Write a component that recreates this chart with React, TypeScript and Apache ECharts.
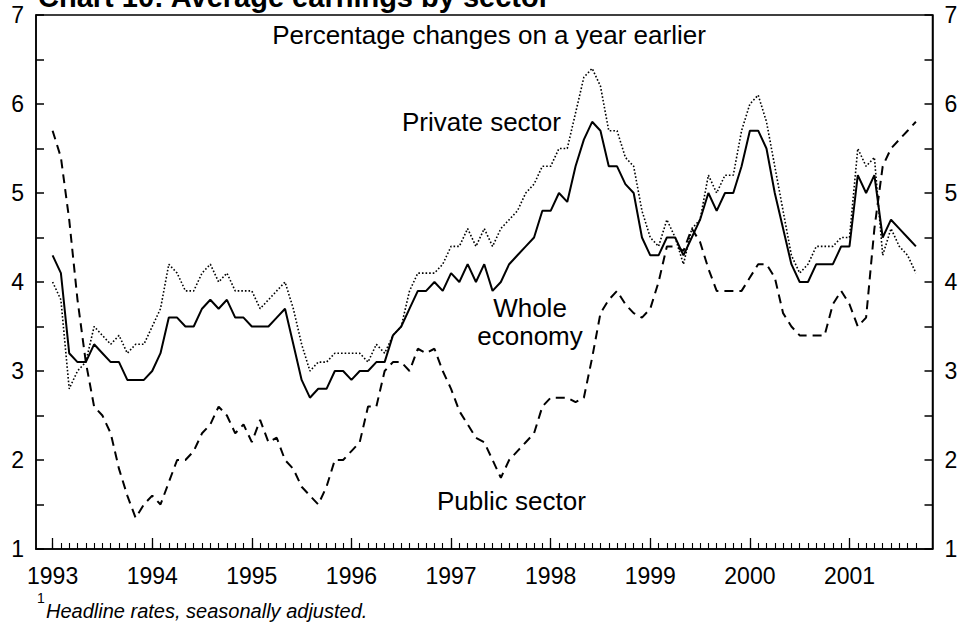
import React, { useEffect, useRef } from "react";
import * as echarts from "echarts";

// Axis runs from Nov 1992 to Nov 2001 (two empty months either side of the data)
const AXIS_START_YEAR = 1992;
const AXIS_START_MONTH = 11;
const AXIS_MONTHS = 109;
const LEAD_PAD = 2;

const yearLabels = ["1993", "1994", "1995", "1996", "1997", "1998", "1999", "2000", "2001"];
const yTickLabels = [1, 2, 3, 4, 5, 6, 7];

// Monthly data, Jan 1993 - Sep 2001
const wholeEconomy = [
  4.3, 4.1, 3.2, 3.1, 3.1, 3.3, 3.2, 3.1, 3.1, 2.9, 2.9, 2.9,
  3.0, 3.2, 3.6, 3.6, 3.5, 3.5, 3.7, 3.8, 3.7, 3.8, 3.6, 3.6,
  3.5, 3.5, 3.5, 3.6, 3.7, 3.3, 2.9, 2.7, 2.8, 2.8, 3.0, 3.0,
  2.9, 3.0, 3.0, 3.1, 3.1, 3.4, 3.5, 3.7, 3.9, 3.9, 4.0, 3.9,
  4.1, 4.0, 4.2, 4.0, 4.2, 3.9, 4.0, 4.2, 4.3, 4.4, 4.5, 4.8,
  4.8, 5.0, 4.9, 5.3, 5.6, 5.8, 5.7, 5.3, 5.3, 5.1, 5.0, 4.5,
  4.3, 4.3, 4.5, 4.5, 4.3, 4.5, 4.7, 5.0, 4.8, 5.0, 5.0, 5.3,
  5.7, 5.7, 5.5, 5.0, 4.6, 4.2, 4.0, 4.0, 4.2, 4.2, 4.2, 4.4,
  4.4, 5.2, 5.0, 5.2, 4.5, 4.7, 4.6, 4.5, 4.4,
];

const privateSector = [
  4.0, 3.8, 2.8, 3.0, 3.1, 3.5, 3.4, 3.3, 3.4, 3.2, 3.3, 3.3,
  3.5, 3.7, 4.2, 4.1, 3.9, 3.9, 4.1, 4.2, 4.0, 4.1, 3.9, 3.9,
  3.9, 3.7, 3.8, 3.9, 4.0, 3.7, 3.3, 3.0, 3.1, 3.1, 3.2, 3.2,
  3.2, 3.2, 3.1, 3.3, 3.2, 3.4, 3.5, 3.9, 4.1, 4.1, 4.1, 4.2,
  4.4, 4.4, 4.6, 4.4, 4.6, 4.4, 4.6, 4.7, 4.8, 5.0, 5.1, 5.3,
  5.3, 5.5, 5.5, 5.9, 6.3, 6.4, 6.2, 5.7, 5.7, 5.4, 5.3, 4.8,
  4.5, 4.4, 4.7, 4.5, 4.2, 4.6, 4.7, 5.2, 5.0, 5.2, 5.2, 5.7,
  6.0, 6.1, 5.8, 5.3, 4.8, 4.3, 4.1, 4.2, 4.4, 4.4, 4.4, 4.5,
  4.5, 5.5, 5.3, 5.4, 4.3, 4.6, 4.4, 4.3, 4.1,
];

const publicSector = [
  5.7, 5.4, 4.7, 3.8, 3.1, 2.6, 2.5, 2.3, 1.9, 1.6, 1.35, 1.5,
  1.6, 1.5, 1.75, 2.0, 2.0, 2.1, 2.3, 2.4, 2.6, 2.5, 2.3, 2.4,
  2.2, 2.45, 2.2, 2.25, 2.0, 1.9, 1.7, 1.6, 1.5, 1.7, 2.0, 2.0,
  2.1, 2.2, 2.6, 2.6, 3.0, 3.1, 3.1, 3.0, 3.25, 3.2, 3.25, 3.0,
  2.8, 2.55, 2.4, 2.25, 2.2, 2.0, 1.8, 2.0, 2.1, 2.2, 2.3, 2.6,
  2.7, 2.7, 2.7, 2.65, 2.7, 3.15, 3.65, 3.8, 3.9, 3.75, 3.65, 3.6,
  3.7, 4.0, 4.4, 4.4, 4.35, 4.6, 4.45, 4.15, 3.9, 3.9, 3.9, 3.9,
  4.05, 4.2, 4.2, 4.05, 3.65, 3.5, 3.4, 3.4, 3.4, 3.4, 3.75, 3.9,
  3.75, 3.5, 3.6, 4.6, 5.3, 5.5, 5.6, 5.7, 5.8,
];

const FONT = '"Liberation Sans", Arial, Helvetica, sans-serif';

function buildCategories(): string[] {
  const out: string[] = [];
  for (let i = 0; i < AXIS_MONTHS; i++) {
    const t = AXIS_START_YEAR * 12 + (AXIS_START_MONTH - 1) + i;
    const y = Math.floor(t / 12);
    const m = (t % 12) + 1;
    out.push(`${y}-${m < 10 ? "0" + m : m}`);
  }
  return out;
}

function pad(values: number[]): (number | null)[] {
  const arr: (number | null)[] = [];
  for (let i = 0; i < LEAD_PAD; i++) arr.push(null);
  values.forEach((v) => arr.push(v));
  while (arr.length < AXIS_MONTHS) arr.push(null);
  return arr;
}

export default function App() {
  const ref = useRef<HTMLDivElement>(null);

  useEffect(() => {
    if (!ref.current) return;
    const chart = echarts.init(ref.current, undefined, { renderer: "svg" });
    const categories = buildCategories();
    const dataLen = wholeEconomy.length;
    const inData = (i: number) => i >= LEAD_PAD && i < LEAD_PAD + dataLen;
    const isJan = (i: number) => categories[i].endsWith("-01");
    const isYearLabel = (i: number) =>
      isJan(i) && yearLabels.indexOf(categories[i].slice(0, 4)) >= 0;

    const yAxisBase = {
      type: "value" as const,
      min: 1,
      max: 7,
      interval: 0.5,
      splitLine: { show: false },
      axisLine: { show: true, lineStyle: { color: "#000", width: 1.5 } },
      axisTick: { show: true, inside: true, length: 8, lineStyle: { color: "#000", width: 1.5 } },
      axisLabel: {
        color: "#000",
        fontSize: 23,
        fontFamily: FONT,
        margin: 12,
        formatter: (v: number) => (yTickLabels.indexOf(v) >= 0 ? String(v) : ""),
      },
    };

    chart.setOption({
      animation: false,
      grid: {
        left: 36,
        right: 36.5,
        top: 15,
        bottom: 82,
        show: true,
        borderColor: "#000",
        borderWidth: 1.5,
        backgroundColor: "transparent",
      },
      xAxis: [
        {
          type: "category",
          data: categories,
          boundaryGap: false,
          position: "bottom",
          axisLine: { show: true, onZero: false, lineStyle: { color: "#000", width: 1.5 } },
          axisTick: {
            show: true,
            inside: true,
            length: 11,
            interval: (i: number) => isJan(i) && inData(i),
            lineStyle: { color: "#000", width: 1.3 },
          },
          axisLabel: {
            show: true,
            interval: (i: number) => isYearLabel(i),
            formatter: (v: string) => v.slice(0, 4),
            color: "#000",
            fontSize: 23,
            fontFamily: FONT,
            margin: 15,
          },
          splitLine: { show: false },
        },
        {
          type: "category",
          data: categories,
          boundaryGap: false,
          position: "bottom",
          axisLine: { show: false, onZero: false },
          axisTick: {
            show: true,
            inside: true,
            length: 6,
            interval: (i: number) => inData(i),
            lineStyle: { color: "#000", width: 1.1 },
          },
          axisLabel: { show: false },
          splitLine: { show: false },
        },
      ],
      yAxis: [
        { ...yAxisBase, position: "left" },
        { ...yAxisBase, position: "right" },
      ],
      series: [
        {
          name: "Whole economy",
          type: "line",
          data: pad(wholeEconomy),
          symbol: "none",
          connectNulls: false,
          lineStyle: { color: "#000", width: 2 },
          z: 3,
        },
        {
          name: "Private sector",
          type: "line",
          data: pad(privateSector),
          symbol: "none",
          lineStyle: { color: "#000", width: 1.6, type: [1.6, 2] },
          z: 2,
        },
        {
          name: "Public sector",
          type: "line",
          data: pad(publicSector),
          symbol: "none",
          lineStyle: { color: "#000", width: 2, type: [9, 6] },
          z: 2,
        },
      ],
      graphic: [
        {
          type: "text",
          x: 38,
          y: -3,
          style: {
            text: "Chart 10: Average earnings by sector",
            font: `bold 29px ${FONT}`,
            fill: "#000",
            textAlign: "left",
            textVerticalAlign: "middle",
          },
        },
        {
          type: "text",
          x: 489,
          y: 35,
          style: {
            text: "Percentage changes on a year earlier",
            font: `26px ${FONT}`,
            fill: "#000",
            textAlign: "center",
            textVerticalAlign: "middle",
          },
        },
        {
          type: "text",
          x: 402,
          y: 122,
          style: {
            text: "Private sector",
            font: `26px ${FONT}`,
            fill: "#000",
            textAlign: "left",
            textVerticalAlign: "middle",
          },
        },
        {
          type: "text",
          x: 530,
          y: 308,
          style: {
            text: "Whole",
            font: `26px ${FONT}`,
            fill: "#000",
            textAlign: "center",
            textVerticalAlign: "middle",
          },
        },
        {
          type: "text",
          x: 530,
          y: 336,
          style: {
            text: "economy",
            font: `26px ${FONT}`,
            fill: "#000",
            textAlign: "center",
            textVerticalAlign: "middle",
          },
        },
        {
          type: "text",
          x: 437,
          y: 501,
          style: {
            text: "Public sector",
            font: `26px ${FONT}`,
            fill: "#000",
            textAlign: "left",
            textVerticalAlign: "middle",
          },
        },
        {
          type: "text",
          x: 37,
          y: 598,
          style: {
            text: "1",
            font: `14px ${FONT}`,
            fill: "#000",
            textAlign: "left",
            textVerticalAlign: "middle",
          },
        },
        {
          type: "text",
          x: 46,
          y: 611,
          style: {
            text: "Headline rates, seasonally adjusted.",
            font: `italic 20px ${FONT}`,
            fill: "#000",
            textAlign: "left",
            textVerticalAlign: "middle",
          },
        },
      ],
    });
    return () => chart.dispose();
  }, []);

  return (
    <div
      ref={ref}
      style={{ position: "fixed", left: 0, top: 0, width: 969, height: 631, background: "#fff" }}
    />
  );
}
